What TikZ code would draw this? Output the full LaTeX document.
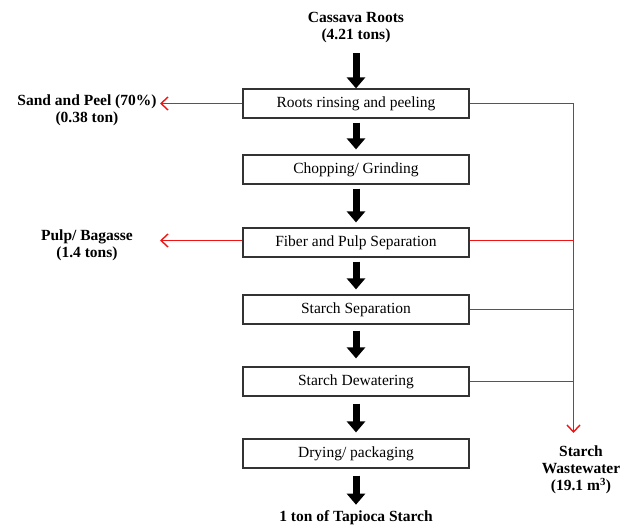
\documentclass[tikz,border=0pt]{standalone}
\usepackage{fontspec}
\setmainfont{Liberation Serif}
\usetikzlibrary{arrows.meta}
\definecolor{wastered}{RGB}{240,20,20}
\begin{document}
\begin{tikzpicture}[x=1pt,y=-1pt,
  procbox/.style={draw=black!80,line width=1.2pt,minimum width=226pt,minimum height=29pt,inner sep=0pt,font=\fontsize{15.5}{17}\selectfont},
  lbl/.style={align=center,font=\fontsize{15.5}{17}\selectfont\bfseries,inner sep=0pt},
  flow/.style={line width=7pt,-{Triangle[width=18pt,length=11pt]}},
  waste/.style={draw=wastered,line width=1.4pt},
  wastearrow/.style={waste,-{Straight Barb[length=7pt,width=13pt]}}]
\useasboundingbox (0,0) rectangle (623,526);
% input / output
\node[lbl] (in) at (356,28) {Cassava Roots\\(4.21 tons)};
\node[lbl] (out) at (356,518) {1 ton of Tapioca Starch};
% process boxes
\node[procbox] (b1) at (356,103.5) {Roots rinsing and peeling};
\node[procbox] (b2) at (356,169.5) {Chopping/ Grinding};
\node[procbox] (b3) at (356,242.5) {Fiber and Pulp Separation};
\node[procbox] (b4) at (356,309.5) {Starch Separation};
\node[procbox] (b5) at (356,381.5) {Starch Dewatering};
\node[procbox] (b6) at (356,453.5) {Drying/ packaging};
% side labels
\node[lbl] (sand) at (87,110) {Sand and Peel (70\%)\\(0.38 ton)};
\node[lbl] (pulp) at (87,245) {Pulp/ Bagasse\\(1.4 tons)};
\node[lbl] (ww) at (581,470) {Starch\\Wastewater\\(19.1 m\textsuperscript{3})};
\coordinate (sandtip) at (160,103.5);
\coordinate (pulptip) at (160,240.5);
\coordinate (wwtip) at (573.5,433);
% main flow arrows
\draw[flow,shorten <=10pt,shorten >=0pt] (in) -- (b1);
\draw[flow,shorten <=4pt,shorten >=5pt] (b1) -- (b2);
\draw[flow,shorten <=4pt,shorten >=5pt] (b2) -- (b3);
\draw[flow,shorten <=4pt,shorten >=5pt] (b3) -- (b4);
\draw[flow,shorten <=6pt,shorten >=8pt] (b4) -- (b5);
\draw[flow,shorten <=7pt,shorten >=6pt] (b5) -- (b6);
\draw[flow,shorten <=7pt,shorten >=6pt] (b6) -- (out);
% waste streams
\draw[wastearrow] (b1.west) -- (sandtip);
\draw[wastearrow] (b3.west |- pulptip) -- (pulptip);
\draw[wastearrow] (b1.east) -| (wwtip);
\draw[waste] (b3.east |- pulptip) -- (wwtip |- pulptip);
\draw[waste] (b4.east) -- (wwtip |- b4.east);
\draw[waste] (b5.east) -- (wwtip |- b5.east);
\end{tikzpicture}
\end{document}
